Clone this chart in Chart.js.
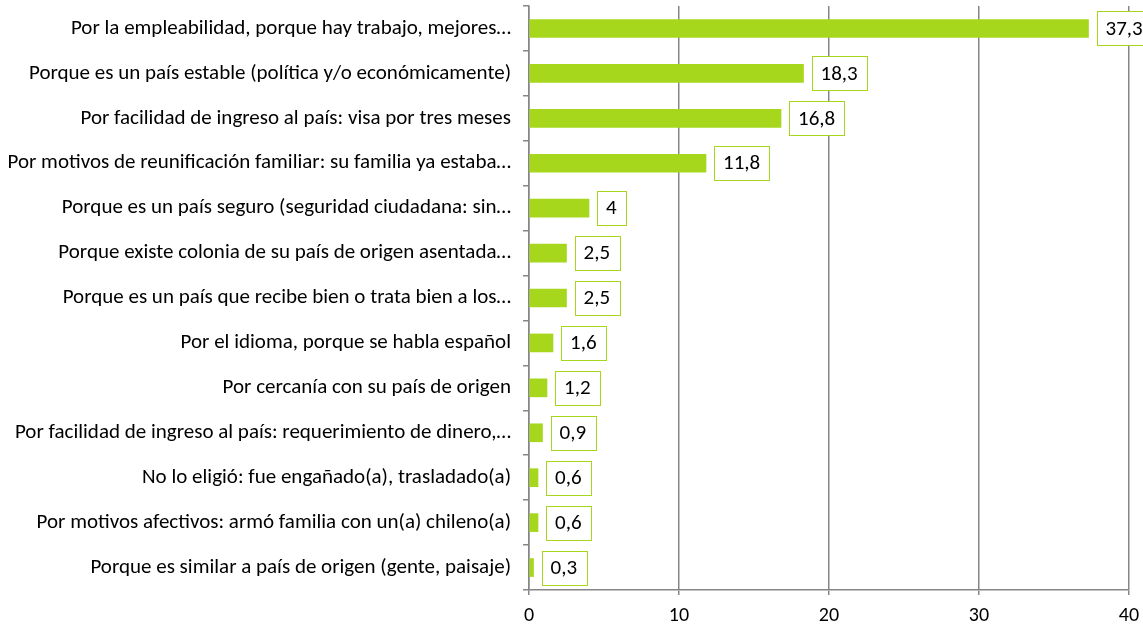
<!DOCTYPE html>
<html>
<head>
<meta charset="utf-8">
<script src="https://cdn.jsdelivr.net/npm/chart.js@4"></script>
<style>
  html, body { margin: 0; padding: 0; background: #fff; }
  #wrap { width: 1143px; height: 625px; }
</style>
</head>
<body>
<div id="wrap"><canvas id="motivosChart"></canvas></div>
<script>
const motivos = [
    'Por la empleabilidad, porque hay trabajo, mejores…',
    'Porque es un país estable (política y/o económicamente)',
    'Por facilidad de ingreso al país: visa por tres meses',
    'Por motivos de reunificación familiar: su familia ya estaba…',
    'Porque es un país seguro (seguridad ciudadana: sin…',
    'Porque existe colonia de su país de origen asentada…',
    'Porque es un país que recibe bien o trata bien a los…',
    'Por el idioma, porque se habla español',
    'Por cercanía con su país de origen',
    'Por facilidad de ingreso al país: requerimiento de dinero,…',
    'No lo eligió: fue engañado(a), trasladado(a)',
    'Por motivos afectivos: armó familia con un(a) chileno(a)',
    'Porque es similar a país de origen (gente, paisaje)'
];
const porcentajes = [37.3, 18.3, 16.8, 11.8, 4, 2.5, 2.5, 1.6, 1.2, 0.9, 0.6, 0.6, 0.3];
const ticksX = [0, 10, 20, 30, 40];

const verde = '#a6d71c';
const gris = '#868686';
const fuente = 'Carlito, "Open Sans", sans-serif';

// etiquetas con caja al final de cada barra
const etiquetas = {
    id: 'etiquetas',
    afterDatasetsDraw(chart) {
        const ctx = chart.ctx;
        const meta = chart.getDatasetMeta(0);
        ctx.save();
        ctx.font = '21px ' + fuente;
        ctx.textBaseline = 'middle';
        ctx.textAlign = 'center';
        meta.data.forEach((bar, i) => {
            const txt = String(porcentajes[i]).replace('.', ',');
            const w = ctx.measureText(txt).width + 18;
            const h = 34;
            const x = bar.x + 8;
            const y = bar.y - h / 2;
            ctx.fillStyle = '#fff';
            ctx.fillRect(x, y, w, h);
            ctx.strokeStyle = verde;
            ctx.lineWidth = 1;
            ctx.strokeRect(Math.round(x) + 0.5, Math.round(y) + 0.5, Math.round(w), h);
            ctx.fillStyle = '#000';
            ctx.fillText(txt, x + w / 2, bar.y + 1);
        });
        ctx.restore();
    }
};

const ctx = document.getElementById('motivosChart').getContext('2d');

const motivosChart = new Chart(ctx, {
    type: 'bar',
    data: {
        labels: motivos,
        datasets: [{
            data: porcentajes,
            backgroundColor: verde,
            borderWidth: 0,
            barThickness: 18
        }]
    },
    options: {
        indexAxis: 'y',
        responsive: true,
        maintainAspectRatio: false,
        animation: false,
        layout: { padding: { top: 6, right: 14, left: 0, bottom: 0 } },
        plugins: {
            legend: { display: false },
            tooltip: { enabled: false }
        },
        scales: {
            x: {
                min: 0,
                max: 40,
                afterBuildTicks: axis => { axis.ticks = ticksX.map(v => ({ value: v })); },
                afterFit: axis => { axis.height = 35; axis.paddingLeft = 0; axis.paddingRight = 0; },
                grid: {
                    color: gris,
                    lineWidth: 1.5,
                    tickLength: 5
                },
                border: { color: gris, width: 1.5 },
                ticks: {
                    color: '#000',
                    padding: 9,
                    maxRotation: 0,
                    font: { family: fuente, size: 20 }
                }
            },
            y: {
                afterFit: axis => { axis.width = 529; axis.paddingTop = 0; axis.paddingBottom = 0; },
                grid: {
                    drawOnChartArea: false,
                    color: gris,
                    lineWidth: 1.5,
                    tickLength: 6,
                    offset: true
                },
                border: { color: gris, width: 1.5 },
                ticks: {
                    color: '#000',
                    padding: 12,
                    autoSkip: false,
                    font: { family: fuente, size: 21 }
                }
            }
        }
    },
    plugins: [etiquetas]
});
</script>
</body>
</html>
